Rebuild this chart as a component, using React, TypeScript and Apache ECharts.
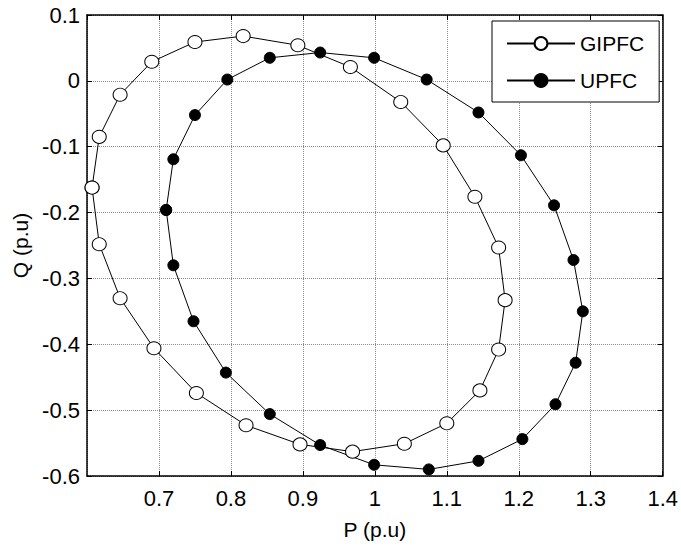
import React, { useEffect, useRef } from "react";
import * as echarts from "echarts";

// Operating loci traced in the P-Q plane (per-unit), one closed loop per controller.
const gipfcP = [
  0.607, 0.617, 0.646, 0.69, 0.75, 0.817, 0.893, 0.966, 1.036, 1.095, 1.139, 1.172,
  1.181, 1.172, 1.146, 1.1, 1.041, 0.969, 0.896, 0.821, 0.752, 0.693, 0.646, 0.617,
];
const gipfcQ = [
  -0.162, -0.085, -0.021, 0.029, 0.059, 0.068, 0.054, 0.021, -0.032, -0.098, -0.176, -0.253,
  -0.333, -0.408, -0.47, -0.52, -0.551, -0.563, -0.552, -0.523, -0.474, -0.406, -0.33, -0.248,
];
const upfcP = [
  0.71, 0.72, 0.75, 0.795, 0.854, 0.924, 0.999, 1.072, 1.144, 1.203, 1.249, 1.276,
  1.289, 1.279, 1.251, 1.205, 1.144, 1.075, 0.999, 0.924, 0.854, 0.793, 0.748, 0.72,
];
const upfcQ = [
  -0.196, -0.119, -0.052, 0.002, 0.035, 0.043, 0.035, 0.002, -0.048, -0.113, -0.189, -0.272,
  -0.35, -0.428, -0.491, -0.544, -0.577, -0.59, -0.583, -0.553, -0.506, -0.443, -0.365, -0.28,
];

const FONT = "'Liberation Sans', Arial, Helvetica, sans-serif";

// Close each loop by repeating its first point.
function loop(p: number[], q: number[]): number[][] {
  const pts = p.map((x, i) => [x, q[i]]);
  pts.push([p[0], q[0]]);
  return pts;
}

const fmt = (v: number) => String(Number(v.toFixed(1)));

export default function App() {
  const ref = useRef<HTMLDivElement>(null);

  useEffect(() => {
    if (!ref.current) return;
    const chart = echarts.init(ref.current, null, { renderer: "svg" });

    const frameLine = { show: true, onZero: false, lineStyle: { color: "#000", width: 1.5 } };
    const innerTick = { show: true, inside: true, length: 5, lineStyle: { color: "#000", width: 1 } };
    const gridLine = { show: true, lineStyle: { color: "#8a8a8a", type: "dotted" as const, width: 1 } };

    chart.setOption({
      animation: false,
      backgroundColor: "#fff",
      textStyle: { fontFamily: FONT },
      grid: { left: 87, right: 17, top: 15, bottom: 72, containLabel: false },
      legend: {
        orient: "vertical",
        left: 492,
        top: 21,
        padding: [12, 15, 11, 14],
        itemWidth: 68,
        itemHeight: 16,
        itemGap: 16,
        itemTextGap: 9,
        backgroundColor: "#fff",
        borderColor: "#000",
        borderWidth: 1,
        borderRadius: 0,
        textStyle: { fontFamily: FONT, fontSize: 21, color: "#000" },
        data: ["GIPFC", "UPFC"],
      },
      xAxis: [
        {
          type: "value",
          position: "bottom",
          min: 0.6,
          max: 1.4,
          interval: 0.1,
          name: "P (p.u)",
          nameLocation: "middle",
          nameGap: 43,
          nameTextStyle: { fontFamily: FONT, fontSize: 21, color: "#000" },
          axisLine: frameLine,
          axisTick: innerTick,
          splitLine: gridLine,
          axisLabel: {
            showMinLabel: false,
            margin: 11,
            fontFamily: FONT,
            fontSize: 22,
            color: "#000",
            formatter: fmt,
          },
        },
        {
          type: "value",
          position: "top",
          min: 0.6,
          max: 1.4,
          interval: 0.1,
          axisLine: frameLine,
          axisTick: innerTick,
          splitLine: { show: false },
          axisLabel: { show: false },
        },
      ],
      yAxis: [
        {
          type: "value",
          position: "left",
          min: -0.6,
          max: 0.1,
          interval: 0.1,
          name: "Q (p.u)",
          nameLocation: "middle",
          nameGap: 56,
          nameTextStyle: { fontFamily: FONT, fontSize: 21, color: "#000" },
          axisLine: frameLine,
          axisTick: innerTick,
          splitLine: gridLine,
          axisLabel: {
            margin: 7,
            fontFamily: FONT,
            fontSize: 22,
            color: "#000",
            formatter: fmt,
          },
        },
        {
          type: "value",
          position: "right",
          min: -0.6,
          max: 0.1,
          interval: 0.1,
          axisLine: frameLine,
          axisTick: innerTick,
          splitLine: { show: false },
          axisLabel: { show: false },
        },
      ],
      series: [
        {
          name: "GIPFC",
          type: "line",
          xAxisIndex: 0,
          yAxisIndex: 0,
          data: loop(gipfcP, gipfcQ),
          symbol: "circle",
          symbolSize: [14, 13],
          lineStyle: { color: "#000", width: 1 },
          itemStyle: { color: "#fff", borderColor: "#000", borderWidth: 1 },
          emphasis: { disabled: true },
        },
        {
          name: "UPFC",
          type: "line",
          xAxisIndex: 0,
          yAxisIndex: 0,
          data: loop(upfcP, upfcQ),
          symbol: "circle",
          symbolSize: 11,
          lineStyle: { color: "#000", width: 1 },
          itemStyle: { color: "#000", borderColor: "#000", borderWidth: 1 },
          emphasis: { disabled: true },
        },
      ],
    });

    return () => chart.dispose();
  }, []);

  return (
    <div
      ref={ref}
      style={{ position: "fixed", left: 0, top: 0, width: 681, height: 548, background: "#fff" }}
    />
  );
}
